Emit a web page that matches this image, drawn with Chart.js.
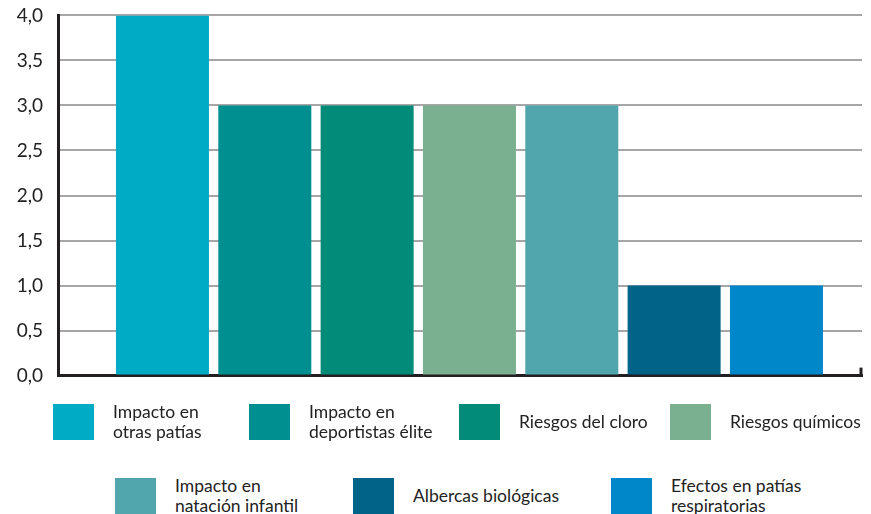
<!DOCTYPE html>
<html>
<head>
<meta charset="utf-8">
<script src="https://cdn.jsdelivr.net/npm/chart.js@4"></script>
<style>
  body { margin: 0; background: #fff; }
  #wrap { position: relative; width: 871px; height: 514px; overflow: hidden; }
  #box { position: absolute; left: 0; top: -11px; width: 871px; height: 413px; }
  .item { position: absolute; display: flex; align-items: center; height: 36px; }
  .sw { width: 41px; height: 36px; flex: none; }
  .lbl { margin-left: 19px; font: 17.5px Lato, sans-serif; color: #222; line-height: 20px; white-space: nowrap; }
</style>
</head>
<body>
<div id="wrap">
  <div id="box"><canvas id="chart"></canvas></div>
  <div id="legend"></div>
</div>
<script>
"use strict";

const categories = [
  ["Impacto en", "otras patías"],
  ["Impacto en", "deportistas élite"],
  ["Riesgos del cloro"],
  ["Riesgos químicos"],
  ["Impacto en", "natación infantil"],
  ["Albercas biológicas"],
  ["Efectos en patías", "respiratorias"]
];
const values = [4, 3, 3, 3, 3, 1, 1];
const colors = ["#00acc5", "#008f90", "#028b79", "#7ab08f", "#51a6ad", "#006387", "#0087c9"];
const yTicks = [0, 0.5, 1, 1.5, 2, 2.5, 3, 3.5, 4];

// legend spots: [left, top] of the colour box
const legendPos = [[53, 404], [249, 404], [459, 404], [670, 404], [115, 478], [353, 478], [611, 478]];

const endTick = {
  id: "endTick",
  afterDraw(chart) {
    const { ctx, chartArea } = chart;
    ctx.save();
    ctx.strokeStyle = "#231f20";
    ctx.lineWidth = 3;
    ctx.beginPath();
    ctx.moveTo(chartArea.right - 1, chartArea.bottom);
    ctx.lineTo(chartArea.right - 1, chartArea.bottom - 8);
    ctx.stroke();
    ctx.restore();
  }
};

const ctx = document.getElementById("chart").getContext("2d");
new Chart(ctx, {
  type: "bar",
  data: {
    datasets: [{
      data: values.map((v, i) => ({ x: i + 1, y: v })),
      backgroundColor: colors,
      barPercentage: 0.909,
      categoryPercentage: 1
    }]
  },
  options: {
    responsive: true,
    maintainAspectRatio: false,
    animation: false,
    layout: { padding: { top: 5, right: 9, bottom: 5, left: 0 } },
    plugins: { legend: { display: false }, tooltip: { enabled: false } },
    scales: {
      x: {
        type: "linear",
        offset: false,
        min: -0.021,
        max: 7.836,
        afterBuildTicks(scale) { scale.ticks = values.map((v, i) => ({ value: i + 1 })); },
        ticks: { display: false },
        grid: { display: false },
        border: { color: "#231f20", width: 3 },
        afterFit(scale) { scale.height = 0; }
      },
      y: {
        min: 0,
        max: 4,
        afterBuildTicks(scale) { scale.ticks = yTicks.map(v => ({ value: v })); },
        ticks: {
          padding: 15,
          color: "#222",
          font: { family: "Lato", size: 19 },
          callback: v => v.toFixed(1).replace(".", ",")
        },
        grid: { color: "#a6a6a6", lineWidth: 2, drawTicks: false },
        border: { color: "#231f20", width: 3 },
        afterFit(scale) { scale.width = 58; }
      }
    }
  },
  plugins: [endTick]
});

const legend = document.getElementById("legend");
categories.forEach((lines, i) => {
  const item = document.createElement("div");
  item.className = "item";
  item.style.left = legendPos[i][0] + "px";
  item.style.top = legendPos[i][1] + "px";
  item.innerHTML = '<div class="sw" style="background:' + colors[i] + '"></div>' +
    '<div class="lbl">' + lines.join("<br>") + "</div>";
  legend.appendChild(item);
});
</script>
</body>
</html>
